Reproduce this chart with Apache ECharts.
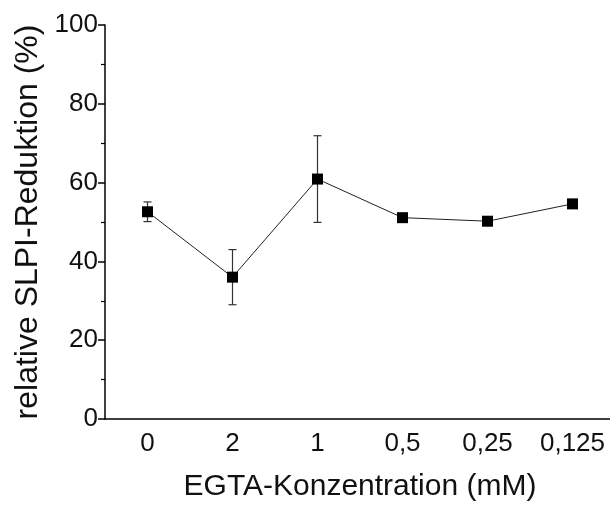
<!DOCTYPE html>
<html>
<head>
<meta charset="utf-8">
<script src="https://cdn.jsdelivr.net/npm/echarts@6/dist/echarts.min.js"></script>
<style>
  html, body { margin: 0; padding: 0; background: #fff; }
  #chart { width: 610px; height: 505px; }
</style>
</head>
<body>
<div id="chart"></div>
<script>
// EGTA concentrations (mM), in plotted order
const categories = ['0', '2', '1', '0,5', '0,25', '0,125'];
// mean relative SLPI reduction (%)
const means = [52.6, 36.0, 60.9, 51.1, 50.2, 54.6];
// error (± half-range) for each mean
const errors = [2.5, 7.0, 11.0, 0.8, 0.8, 0.8];
// y-axis ticks
const yTicks = [0, 20, 40, 60, 80, 100];

const errorData = means.map((m, i) => [i, m - errors[i], m + errors[i]]);

const chart = echarts.init(document.getElementById('chart'), null, { renderer: 'canvas' });

const font = 'Liberation Sans, Arial, sans-serif';

chart.setOption({
  animation: false,
  backgroundColor: '#ffffff',
  grid: { left: 105, top: 25, width: 510, height: 394, containLabel: false, outerBoundsMode: 'none' },
  xAxis: {
    type: 'category',
    data: categories,
    boundaryGap: true,
    name: 'EGTA-Konzentration (mM)',
    nameLocation: 'middle',
    nameGap: 53,
    nameTextStyle: { fontFamily: font, fontSize: 30, color: '#111' },
    axisLine: { lineStyle: { color: '#000', width: 1.5 } },
    axisTick: { alignWithLabel: true, interval: 0, length: 8, lineStyle: { color: '#000', width: 1.5 } },
    axisLabel: { fontFamily: font, fontSize: 26, color: '#111', margin: 12, interval: 0, hideOverlap: false },
    splitLine: { show: false }
  },
  yAxis: {
    type: 'value',
    min: yTicks[0],
    max: yTicks[yTicks.length - 1],
    interval: 20,
    name: 'relative SLPI-Reduktion (%)',
    nameLocation: 'middle',
    nameGap: 55,
    nameTextStyle: { fontFamily: font, fontSize: 32, color: '#111' },
    axisLine: { show: true, lineStyle: { color: '#000', width: 1.5 } },
    axisTick: { show: true, length: 7, lineStyle: { color: '#000', width: 1.5 } },
    minorTick: { show: true, splitNumber: 2, length: 4, lineStyle: { color: '#000', width: 1.2 } },
    axisLabel: { fontFamily: font, fontSize: 26, color: '#111', margin: 7 },
    splitLine: { show: false }
  },
  series: [
    {
      type: 'custom',
      name: 'error',
      z: 1,
      data: errorData,
      renderItem: function (params, api) {
        const x = api.value(0);
        const lo = api.coord([x, api.value(1)]);
        const hi = api.coord([x, api.value(2)]);
        const cap = 4;
        const style = { stroke: '#333', lineWidth: 1.2 };
        return {
          type: 'group',
          children: [
            { type: 'line', shape: { x1: hi[0], y1: hi[1], x2: lo[0], y2: lo[1] }, style: style },
            { type: 'line', shape: { x1: hi[0] - cap, y1: hi[1], x2: hi[0] + cap, y2: hi[1] }, style: style },
            { type: 'line', shape: { x1: lo[0] - cap, y1: lo[1], x2: lo[0] + cap, y2: lo[1] }, style: style }
          ]
        };
      }
    },
    {
      type: 'line',
      name: 'mean',
      z: 2,
      data: means,
      symbol: 'rect',
      symbolSize: 11,
      itemStyle: { color: '#000' },
      lineStyle: { color: '#222', width: 1 }
    }
  ]
});
</script>
</body>
</html>
